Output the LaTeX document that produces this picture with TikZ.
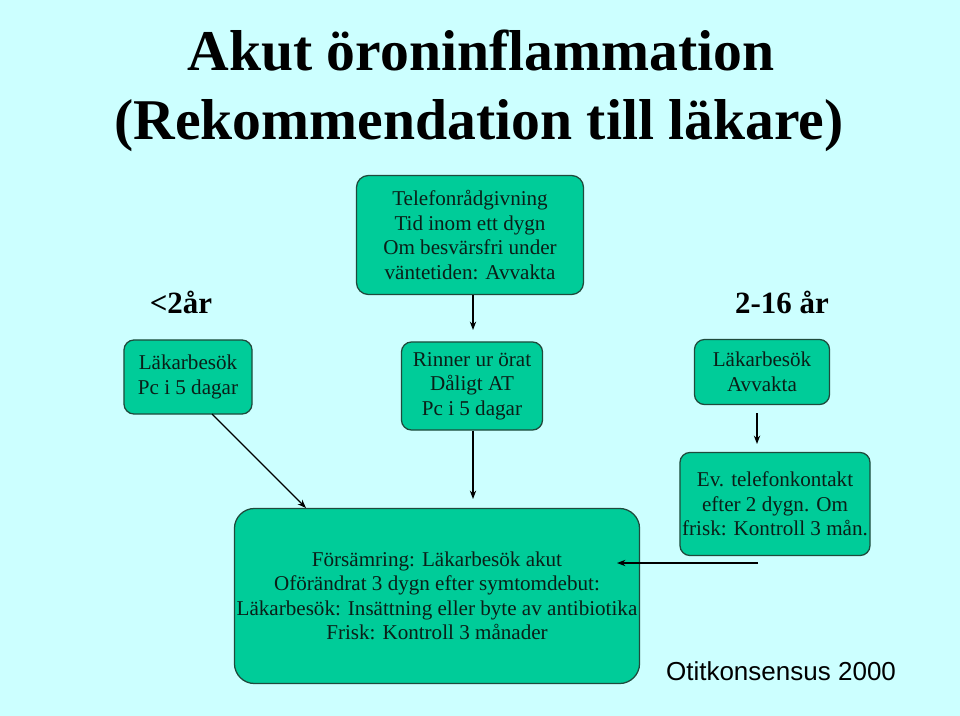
\documentclass[tikz,border=0pt]{standalone}
\usepackage{fontspec}
\setmainfont{Liberation Serif}
\newfontfamily\arialfont{Liberation Sans}
\usetikzlibrary{positioning, arrows.meta, calc}
\definecolor{bgcyan}{HTML}{CCFFFF}
\definecolor{boxgreen}{HTML}{00CC99}
\definecolor{boxline}{HTML}{1F4A3C}
\definecolor{textdark}{HTML}{0A1F18}

\begin{document}
\begin{tikzpicture}[x=0.025cm, y=-0.025cm,
    every node/.style={font=\fontsize{15}{17.4}\selectfont, align=center, inner sep=0pt, text=textdark},
    box/.style={draw=boxline, fill=boxgreen, rounded corners=0.25cm, line width=0.9pt},
    agetext/.style={font=\fontsize{22}{26}\selectfont\bfseries, anchor=base, text=black},
    titletext/.style={font=\fontsize{41}{49}\selectfont\bfseries, anchor=base, text=black},
    >={Stealth[length=6pt, width=4.5pt]}]

\fill[bgcyan] (0,0) rectangle (960,716);

% Titel
\node (title1) [titletext] at (481,71) {Akut öroninflammation};
\node (title2) [titletext] at (479,140) {(Rekommendation till läkare)};

% Alder
\node (small) [agetext] at (181,313) {<2år};
\node (older) [agetext] at (782,313) {2-16 år};

% Boxar
\node (tel) [box, minimum width=5.675cm, minimum height=2.975cm, rounded corners=0.3cm] at (470,235)
  {Telefonrådgivning\\Tid inom ett dygn\\Om besvärsfri under\\väntetiden: Avvakta};
\node (lak) [box, minimum width=3.2cm, minimum height=1.85cm] at (188,377)
  {Läkarbesök\\Pc i 5 dagar};
\node (rinn) [box, minimum width=3.525cm, minimum height=2.2cm] at (472,386)
  {Rinner ur örat\\Dåligt AT\\Pc i 5 dagar};
\node (avv) [box, minimum width=3.375cm, minimum height=1.625cm] at (762,372)
  {Läkarbesök\\Avvakta};
\node (ev) [box, minimum width=4.75cm, minimum height=2.575cm] at (775,504)
  {Ev. telefonkontakt\\efter 2 dygn. Om\\frisk: Kontroll 3 mån.};
\node (stor) [box, minimum width=10.125cm, minimum height=4.375cm, rounded corners=0.5cm] at (437,596)
  {Försämring: Läkarbesök akut\\Oförändrat 3 dygn efter symtomdebut:\\Läkarbesök: Insättning eller byte av antibiotika\\Frisk: Kontroll 3 månader};

% Pilar
\coordinate (telEnd) at (473,330);
\coordinate (lakStart) at (212,414);
\coordinate (lakEnd) at (306,508);
\coordinate (rinnEnd) at (473,499);
\coordinate (avvStart) at (757,413);
\coordinate (avvEnd) at (757,444);
\coordinate (evStart) at (758,563);
\coordinate (evEnd) at (617,563);

\begin{scope}[line width=0.9pt]
\draw[->] (tel.south -| telEnd) -- (telEnd);
\draw[->] (lakStart) -- (lakEnd);
\draw[->] (rinn.south -| rinnEnd) -- (rinnEnd);
\draw[->] (avvStart) -- (avvEnd);
\draw[->] (evStart) -- (evEnd);
\end{scope}

% Kalla
\node (source) [anchor=base, text=black, font=\arialfont\fontsize{18.5}{22}\selectfont] at (781,680) {Otitkonsensus 2000};

\end{tikzpicture}
\end{document}
